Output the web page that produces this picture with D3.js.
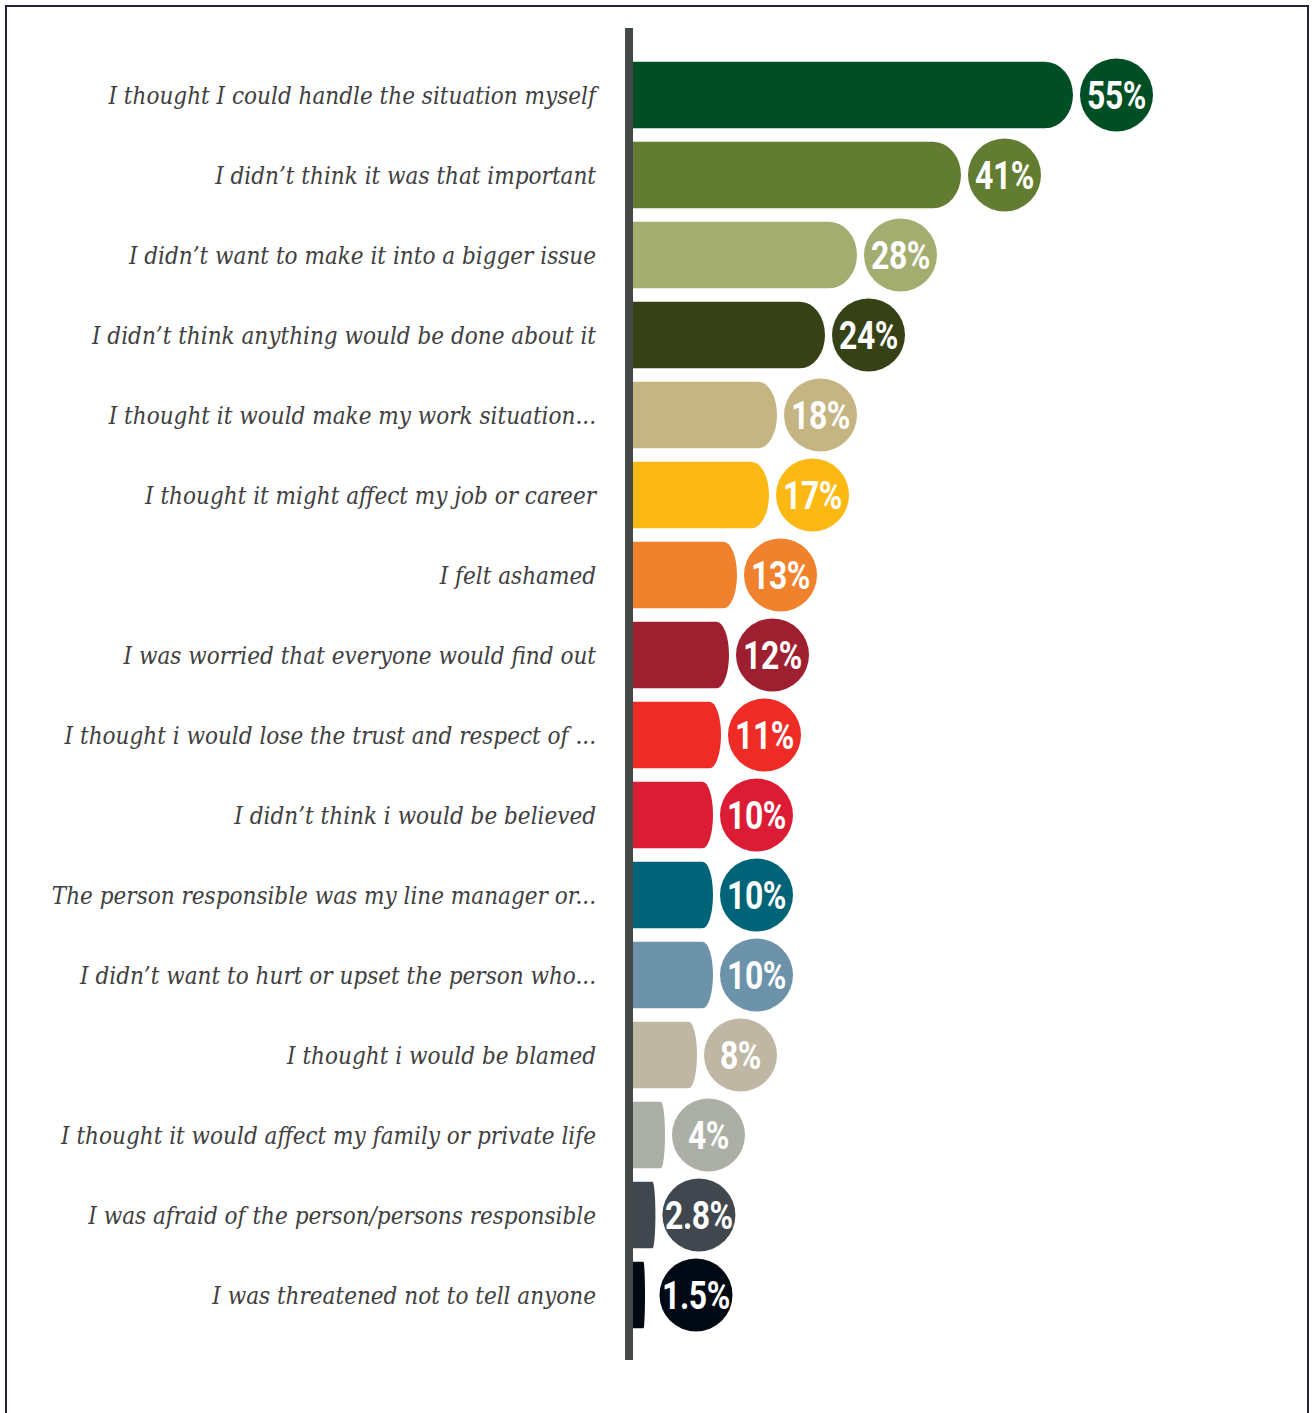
<!DOCTYPE html>
<html>
<head>
<meta charset="utf-8">
<script src="https://cdn.jsdelivr.net/npm/d3@7"></script>
<style>
  html, body { margin: 0; padding: 0; background: #fff; }
  svg { display: block; }
  .reason { font-family: "DejaVu Serif", serif; font-style: italic; font-stretch: condensed; fill: #404040; }
  .pct { font-family: "Roboto", "Liberation Sans", sans-serif; font-weight: bold; fill: #fff; }
</style>
</head>
<body>
<script>
// Reasons for not reporting, share of respondents
const reasons = [
  "I thought I could handle the situation myself",
  "I didn\u2019t think it was that important",
  "I didn\u2019t want to make it into a bigger issue",
  "I didn\u2019t think anything would be done about it",
  "I thought it would make my work situation...",
  "I thought it might affect my job or career",
  "I felt ashamed",
  "I was worried that everyone would find out",
  "I thought i would lose the trust and respect of ...",
  "I didn\u2019t think i would be believed",
  "The person responsible was my line manager or...",
  "I didn\u2019t want to hurt or upset the person who...",
  "I thought i would be blamed",
  "I thought it would affect my family or private life",
  "I was afraid of the person/persons responsible",
  "I was threatened not to tell anyone"
];
const shares = [55, 41, 28, 24, 18, 17, 13, 12, 11, 10, 10, 10, 8, 4, 2.8, 1.5];
const shareLabels = ["55%", "41%", "28%", "24%", "18%", "17%", "13%", "12%", "11%", "10%", "10%", "10%", "8%", "4%", "2.8%", "1.5%"];
const colors = [
  "#004f24", "#627d31", "#a4ad70", "#374116", "#c5b582", "#fdb913",
  "#f0812d", "#9e1f30", "#ee2b24", "#dc1c34", "#006478", "#6c93aa",
  "#bfb7a4", "#abafa6", "#40474e", "#010a14"
];

const W = 1314, H = 1413;
const svg = d3.select("body").append("svg").attr("width", W).attr("height", H);

// Frame
svg.append("path")
  .attr("d", `M6,${H} V6 H1308 V${H}`)
  .attr("fill", "none").attr("stroke", "#22223a").attr("stroke-width", 2);

const x0 = 633;
const x = d3.scaleLinear().domain([0, 55]).range([x0, 1073]);
const y = d3.scaleBand().domain(d3.range(reasons.length)).range([55, 1335]).paddingInner(0.17).paddingOuter(0.085);

const rows = reasons.map((r, i) => ({ r, v: shares[i], lab: shareLabels[i], c: colors[i], i }));

// Bars with a rounded right end
function barPath(d) {
  const top = y(d.i), h = y.bandwidth(), bot = top + h;
  const xe = x(d.v), w = xe - x0;
  const rx = Math.min(28, w * 0.13), ry = h / 2;
  return `M${x0},${top} H${xe - rx} A${rx},${ry} 0 0 1 ${xe},${top + ry} A${rx},${ry} 0 0 1 ${xe - rx},${bot} H${x0} Z`;
}
svg.append("g").selectAll("path").data(rows).join("path")
  .attr("d", barPath).attr("fill", d => d.c);

// Value bubbles
const R = 36.5;
const cx = d => Math.max(x(d.v) + 7 + R, 696);
const cy = d => y(d.i) + y.bandwidth() / 2;
const bub = svg.append("g").selectAll("g").data(rows).join("g")
  .attr("transform", d => `translate(${cx(d)},${cy(d)})`);
bub.append("circle").attr("r", R).attr("fill", d => d.c);
bub.append("text").attr("class", "pct")
  .attr("transform", "scale(0.84,1)")
  .attr("text-anchor", "middle").attr("dy", "0.36em")
  .attr("font-size", 38)
  .attr("letter-spacing", -0.5)
  .text(d => d.lab);

// Category labels
svg.append("g").selectAll("text").data(rows).join("text")
  .attr("class", "reason")
  .attr("x", 596).attr("y", d => cy(d) + 2)
  .attr("text-anchor", "end").attr("dy", "0.3em")
  .attr("font-size", 24)
  .text(d => d.r);

// Vertical axis line
svg.append("line")
  .attr("x1", 629).attr("x2", 629).attr("y1", 28).attr("y2", 1360)
  .attr("stroke", "#434849").attr("stroke-width", 8);
</script>
</body>
</html>
